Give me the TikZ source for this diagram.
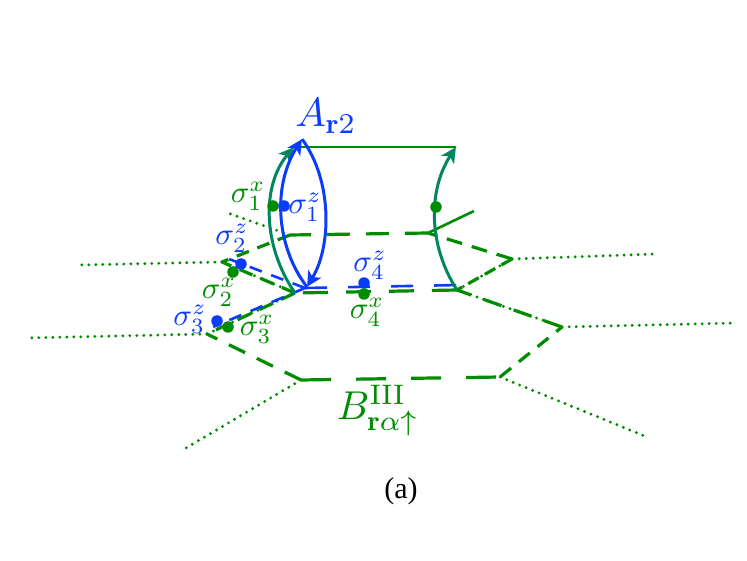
\documentclass[tikz,border=0pt]{standalone}
\usepackage{amsmath,amsfonts,amssymb}
\usepackage{fontspec}
\newfontfamily\capfont{Liberation Serif}
\usetikzlibrary{arrows.meta,calc}
\definecolor{bondgreen}{RGB}{0,140,0}
\definecolor{loopteal}{RGB}{0,135,95}
\definecolor{loopblue}{RGB}{10,60,250}
\tikzset{every picture/.append style={x=1pt,y=-1pt}}
\tikzset{site/.style={inner sep=0pt,minimum size=0pt}}
\tikzset{bond/.style 2 args={bondgreen,line width=3.2pt,dash pattern=on #1pt off #2pt}}
\tikzset{leg/.style={bondgreen,line width=3.2pt,line cap=round,dash pattern=on 0pt off 7pt}}
\tikzset{bluebond/.style 2 args={loopblue,line width=2.6pt,dash pattern=on #1pt off #2pt}}
\tikzset{tealarc/.style={loopteal,line width=3pt,-{Stealth[length=15pt,width=15pt,inset=4pt]}}}
\tikzset{bluearc/.style={loopblue,line width=3pt,-{Stealth[length=15pt,width=15pt,inset=4pt]}}}
\tikzset{greendot/.style={circle,fill=bondgreen,inner sep=0pt,minimum size=11.5pt}}
\tikzset{bluedot/.style={circle,fill=loopblue,inner sep=0pt,minimum size=11.5pt}}
\tikzset{greenlab/.style={bondgreen,scale=3.1,inner sep=0pt}}
\tikzset{bluelab/.style={loopblue,scale=3.1,inner sep=0pt}}
\begin{document}
\begin{tikzpicture}
\useasboundingbox (0,0) rectangle (747,561);
%lower hexagon
\node (a1) at (301,380)[site]{};
\node (a2) at (500,377)[site]{};
\node (a3) at (562,327)[site]{};
\node (a4) at (457,290)[site]{};
\node (a5) at (295,293)[site]{};
\node (a6) at (207,334)[site]{};
%upper hexagon
\node (b1) at (222,262)[site]{};
\node (b2) at (290,235)[site]{};
\node (b3) at (428,233)[site]{};
\node (b4) at (512,259)[site]{};
%ends of the outer legs
\node (l1) at (78,265)[site]{};
\node (l2) at (25,338)[site]{};
\node (l3) at (186,448)[site]{};
\node (l4) at (647,437)[site]{};
\node (l5) at (737,323)[site]{};
\node (l6) at (655,254)[site]{};
\node (l7) at (228,213)[site]{};
\node (l8) at (474,211)[site]{};
%corners of the blue plaquette
\node (c1) at (229,259)[site]{};
\node (c2) at (305,288)[site]{};
\node (c3) at (460,285)[site]{};
\node (c4) at (213,327)[site]{};
%ends of the loop
\node (p) at (302,139)[site]{};
\node (q) at (294,147)[site]{};
\node (r) at (456,147)[site]{};
\node (u) at (307,287)[site]{};
% dashed bonds
\draw[bond={30}{25}] (a1)--(a2);
\draw[bond={14}{10}] (a2)--(a3);
\draw[bond={19}{13}] (a3)--(a4);
\draw[bond={25}{18}] (a4)--(a5);
\draw[bond={15}{9}] (a5)--(a6);
\draw[bond={18}{13}] (a1)--(a6);
\draw[bond={14}{9}] (a5)--(b1);
\draw[bond={13}{9}] (b2)--(b1);
\draw[bond={23}{16}] (b3)--(b2);
\draw[bond={16}{10}] (b4)--(b3);
\draw[bond={12}{7}] (b4)--(a4);
% dotted legs
\draw[leg] (b1)--(l1);
\draw[leg] (a6)--(l2);
\draw[leg] (a1)--(l3);
\draw[leg] (a2)--(l4);
\draw[leg] (a3)--(l5);
\draw[leg] (b4)--(l6);
\draw[leg] (b2)--(l7);
\draw[leg] (b1)--(a5);
\draw[leg] (a6)--(a5);
\draw[leg] (a4)--(a3);
\draw[leg] (a4)--(b4);
\draw[bondgreen,line width=2.6pt] (b3)--(l8);
% blue bonds
\draw[bluebond={13}{10}] (c2)--(c1);
\draw[bluebond={22}{21}] (c2)--(c3);
\draw[bluebond={13}{10}] (c2)--(c4);
% loop
\draw[bondgreen,line width=2.6pt] (q)--(r);
\draw[tealarc] (a5) .. controls (262,245) and (262,185) .. (q);
\draw[tealarc] (a4) .. controls (428,245) and (428,190) .. (r);
\draw[bluearc] (u) .. controls (275,245) and (273,185) .. (p);
\draw[bluearc] (p) .. controls (332,180) and (332,245) .. (u);
% dots
\node (d1x) at (273,206)[greendot]{};
\node (d1z) at (284,206)[bluedot]{};
\node (d2x) at (233,272)[greendot]{};
\node (d2z) at (241,264)[bluedot]{};
\node (d3x) at (228,327)[greendot]{};
\node (d3z) at (217,321)[bluedot]{};
\node (d4z) at (364,283)[bluedot]{};
\node (d4x) at (364,294)[greendot]{};
\node (d5) at (436,207)[greendot]{};
% labels
\node (Alab) at (326,116)[bluelab,scale=1.32]{$A_{\mathbf{r}2}$};
\node (s1x) at (248,196)[greenlab]{$\sigma_1^x$};
\node (s1z) at (305,207)[bluelab]{$\sigma_1^z$};
\node (s2z) at (232,238)[bluelab]{$\sigma_2^z$};
\node (s2x) at (219,292)[greenlab]{$\sigma_2^x$};
\node (s3z) at (190,319)[bluelab]{$\sigma_3^z$};
\node (s3x) at (257,329)[greenlab]{$\sigma_3^x$};
\node (s4z) at (370,265)[bluelab]{$\sigma_4^z$};
\node (s4x) at (367,312)[greenlab]{$\sigma_4^x$};
\node (Blab) at (378,411)[greenlab,scale=1.3]{$B_{\mathbf{r}\alpha\uparrow}^{\mathrm{III}}$};
\node (cap) at (401,491){\capfont\fontsize{30}{32}\selectfont (a)};
\end{tikzpicture}
\end{document}
